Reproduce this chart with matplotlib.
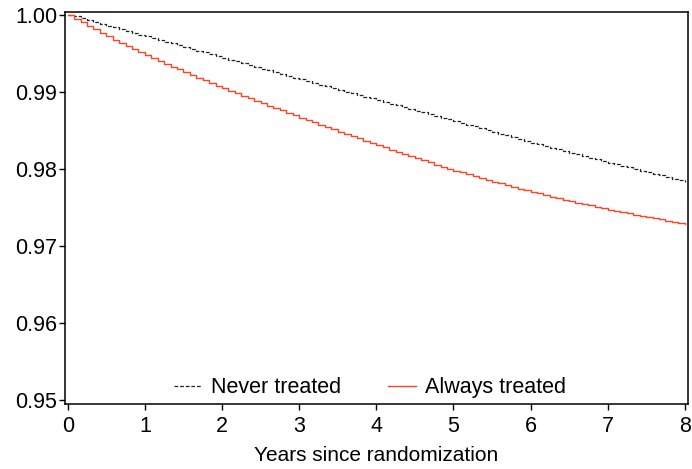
import matplotlib
matplotlib.use("Agg")
import matplotlib.pyplot as plt

plt.rcParams['font.family'] = ['Liberation Sans', 'DejaVu Sans']

# time axis in months, 0..96 (8 years)
months = list(range(97))

never_treated = [
    1.00000, 0.99977, 0.99953, 0.99930, 0.99907, 0.99883, 0.99860, 0.99837, 0.99813, 0.99790, 0.99767, 0.99743, 0.99720,
    0.99697, 0.99673, 0.99650, 0.99627, 0.99603, 0.99580, 0.99557, 0.99533, 0.99510, 0.99487, 0.99463, 0.99440,
    0.99417, 0.99393, 0.99370, 0.99347, 0.99323, 0.99300, 0.99277, 0.99253, 0.99230, 0.99207, 0.99183, 0.99160,
    0.99138, 0.99115, 0.99093, 0.99070, 0.99048, 0.99025, 0.99003, 0.98980, 0.98958, 0.98935, 0.98913, 0.98890,
    0.98868, 0.98845, 0.98823, 0.98800, 0.98778, 0.98755, 0.98733, 0.98710, 0.98688, 0.98665, 0.98643, 0.98620,
    0.98597, 0.98573, 0.98550, 0.98527, 0.98503, 0.98480, 0.98457, 0.98433, 0.98410, 0.98387, 0.98363, 0.98340,
    0.98318, 0.98297, 0.98275, 0.98253, 0.98232, 0.98210, 0.98188, 0.98167, 0.98145, 0.98123, 0.98102, 0.98080,
    0.98059, 0.98038, 0.98018, 0.97997, 0.97976, 0.97955, 0.97934, 0.97913, 0.97893, 0.97872, 0.97851, 0.97830,
]

always_treated = [
    1.00000, 0.99950, 0.99902, 0.99855, 0.99809, 0.99764, 0.99720, 0.99677, 0.99635, 0.99594, 0.99554, 0.99515, 0.99477,
    0.99439, 0.99401, 0.99364, 0.99327, 0.99291, 0.99255, 0.99219, 0.99184, 0.99149, 0.99114, 0.99080, 0.99046,
    0.99013, 0.98980, 0.98947, 0.98915, 0.98883, 0.98851, 0.98819, 0.98788, 0.98757, 0.98726, 0.98695, 0.98664,
    0.98633, 0.98602, 0.98572, 0.98542, 0.98512, 0.98482, 0.98452, 0.98423, 0.98394, 0.98365, 0.98336, 0.98307,
    0.98278, 0.98249, 0.98220, 0.98192, 0.98164, 0.98136, 0.98109, 0.98082, 0.98055, 0.98029, 0.98003, 0.97977,
    0.97952, 0.97927, 0.97903, 0.97879, 0.97855, 0.97832, 0.97809, 0.97787, 0.97765, 0.97743, 0.97722, 0.97701,
    0.97680, 0.97659, 0.97639, 0.97619, 0.97599, 0.97580, 0.97561, 0.97542, 0.97524, 0.97506, 0.97488, 0.97470,
    0.97453, 0.97437, 0.97421, 0.97405, 0.97389, 0.97373, 0.97358, 0.97343, 0.97328, 0.97313, 0.97298, 0.97283,
]

years = [m / 12 for m in months]
x_ticks = [0, 1, 2, 3, 4, 5, 6, 7, 8]
y_ticks = [0.95, 0.96, 0.97, 0.98, 0.99, 1.00]

fig = plt.figure(figsize=(6.92, 4.69), dpi=100)
ax = fig.add_axes([0.094, 0.139, 0.900, 0.836])

ax.step(years, never_treated, where='post', color='#222222', lw=0.9,
        linestyle=(0, (3, 1.5)), label='Never treated')
ax.step(years, always_treated, where='post', color='#ff4426', lw=1.0,
        label='Always treated')

ax.set_xlim(-0.035, 8.04)
ax.set_ylim(0.94948, 1.00039)
ax.set_xticks(x_ticks)
ax.set_yticks(y_ticks)
ax.set_yticklabels(['%.2f' % v for v in y_ticks])
ax.tick_params(direction='out', length=4, width=1, labelsize=15.5)
ax.tick_params(axis='x', pad=5)
ax.tick_params(axis='y', pad=1.5)
for s in ax.spines.values():
    s.set_linewidth(1.1)

ax.set_xlabel('Years since randomization', fontsize=15, labelpad=6)

ax.legend(loc='lower center', bbox_to_anchor=(0.49, -0.035), ncol=2, frameon=False,
          fontsize=15.5, handlelength=1.3, handletextpad=0.4, columnspacing=2.2)

fig.savefig('out.png', dpi=100)
